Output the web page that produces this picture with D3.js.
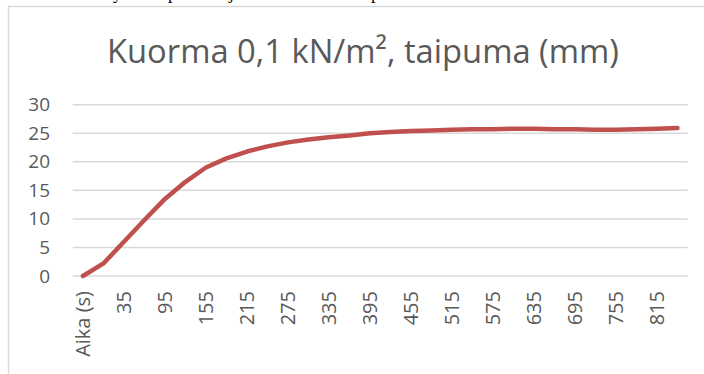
<!DOCTYPE html>
<html>
<head>
<meta charset="utf-8">
<script src="https://cdn.jsdelivr.net/npm/d3@7"></script>
<style>
  body { margin: 0; background: #fff; }
  svg { display: block; }
</style>
</head>
<body>
<div id="container"></div>
<script>
const title = 'Kuorma 0,1 kN/m², taipuma (mm)';

// categories as they appear on the sheet (header cell first)
const categories = ['Aika (s)', '5', '35', '65', '95', '125', '155', '185', '215', '245',
    '275', '305', '335', '365', '395', '425', '455', '485', '515', '545',
    '575', '605', '635', '665', '695', '725', '755', '785', '815', '845'];

const deflection = [0, 2.2, 6.0, 9.8, 13.5, 16.5, 19.0, 20.6, 21.8, 22.7,
    23.4, 23.9, 24.3, 24.6, 25.0, 25.2, 25.4, 25.5, 25.6, 25.7,
    25.7, 25.8, 25.8, 25.7, 25.7, 25.6, 25.6, 25.7, 25.8, 25.9];

const yTicks = [0, 5, 10, 15, 20, 25, 30];

const main = () => {
    const width = 704, height = 374;
    const svg = d3.select('#container')
        .append('svg')
        .attr('width', width)
        .attr('height', height);

    // bits of the document text above the chart, only descenders visible
    svg.append('g')
        .selectAll('text')
        .data(['y', 'p', 'j', 'p'])
        .enter()
        .append('text')
        .attr('x', (d, i) => [113, 168, 229, 371][i])
        .attr('y', -1)
        .attr('font-family', 'Liberation Serif')
        .attr('font-size', 18)
        .attr('fill', '#000')
        .text(d => d);

    // chart frame
    svg.append('rect')
        .attr('x', 8.5)
        .attr('y', 6.5)
        .attr('width', 760)
        .attr('height', 420)
        .attr('fill', '#fff')
        .attr('stroke', '#d9d9d9')
        .attr('stroke-width', 1.5);

    svg.append('text')
        .attr('x', 363)
        .attr('y', 63)
        .attr('text-anchor', 'middle')
        .attr('font-family', 'Open Sans')
        .attr('font-size', 33)
        .attr('fill', '#595959')
        .attr('textLength', 512)
        .attr('lengthAdjust', 'spacingAndGlyphs')
        .text(title);

    const xScale = d3.scaleBand().domain(categories).range([72.7, 687.7]);
    const yScale = d3.scaleLinear().domain([0, 30]).range([276, 104.7]);

    // gridlines
    svg.append('g')
        .selectAll('line')
        .data(yTicks)
        .enter()
        .append('line')
        .attr('x1', 72.7)
        .attr('x2', 687.7)
        .attr('y1', d => yScale(d))
        .attr('y2', d => yScale(d))
        .attr('stroke', '#d9d9d9')
        .attr('stroke-width', 1.5);

    const yAxis = d3.axisLeft(yScale).tickValues(yTicks).tickSize(0).tickPadding(0);
    const yAxisGroup = svg.append('g')
        .attr('transform', 'translate(50,0)')
        .call(yAxis);
    yAxisGroup.select('.domain').remove();
    yAxisGroup.selectAll('text')
        .attr('font-family', 'Open Sans')
        .attr('font-size', 19)
        .attr('fill', '#595959');

    const xAxis = d3.axisBottom(xScale)
        .tickValues(categories.filter((d, i) => i % 2 === 0))
        .tickSize(0)
        .tickPadding(0);
    const xAxisGroup = svg.append('g')
        .attr('transform', 'translate(0,' + 291 + ')')
        .call(xAxis);
    xAxisGroup.select('.domain').remove();
    xAxisGroup.selectAll('text')
        .attr('font-family', 'Open Sans')
        .attr('font-size', 20)
        .attr('fill', '#595959')
        .attr('transform', 'rotate(-90)')
        .attr('text-anchor', 'end')
        .attr('x', 0)
        .attr('y', 0)
        .attr('dy', '0.35em');

    const lineMaker = d3.line()
        .x((d, i) => xScale(categories[i]) + xScale.bandwidth() / 2)
        .y(d => yScale(d));

    svg.append('path')
        .datum(deflection)
        .attr('d', lineMaker)
        .attr('fill', 'none')
        .attr('stroke', '#c0504d')
        .attr('stroke-width', 4.5)
        .attr('stroke-linecap', 'round')
        .attr('stroke-linejoin', 'round');
};

main();
</script>
</body>
</html>
